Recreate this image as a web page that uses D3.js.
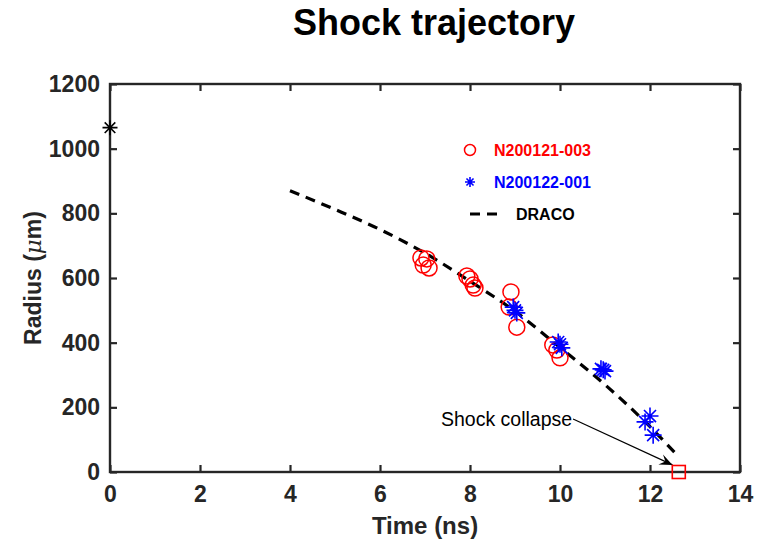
<!DOCTYPE html>
<html><head><meta charset="utf-8">
<script src="https://cdn.jsdelivr.net/npm/d3@7"></script>
<style>
html,body{margin:0;padding:0;background:#fff;}
svg{display:block;font-family:"Liberation Sans",Arial,sans-serif;}
</style></head>
<body><svg id="c" width="765" height="541"></svg>
<script>
// ---- data ----
const xTicks = [0,2,4,6,8,10,12,14];
const yTicks = [0,200,400,600,800,1000,1200];
const redT = [6.91,7.04,6.96,7.09,7.93,8.0,8.07,8.11,8.91,8.87,9.04,9.84,9.93,10.0];
const redR = [662,659,640,631,606,597,578,569,557,510,448,393,377,353];
const blueT = [8.96,9.04,9.0,9.96,10.04,10.0,10.91,11.0,10.96,12.0,11.89,12.07];
const blueR = [510,492,500,402,384,395,319,312,316,173,155,114];
const dracoT = [4,5,6,7,8,9,10,11,12,12.55];
const dracoR = [870,812,750,677,590,497,385,270,140,60];
const initT = [0], initR = [1065];
const collapseT = [12.64], collapseR = [0];
const legendLabels = ["N200121-003","N200122-001","DRACO"];
const titleText = "Shock trajectory";
const annText = "Shock collapse";

// ---- layout ----
const L=110, R=740, T=84, B=472;
const axisColor = "#262626";
const svg = d3.select("#c");
const x = d3.scaleLinear().domain([0,14]).range([L,R]);
const y = d3.scaleLinear().domain([0,1200]).range([B,T]);

// title
svg.append("text").attr("x",434).attr("y",35).attr("text-anchor","middle")
  .attr("font-size",36).attr("font-weight","bold").attr("fill","#000").text(titleText);

// DRACO line
svg.append("path").datum(dracoT.map((t,i)=>[t,dracoR[i]]))
  .attr("d", d3.line().x(d=>x(d[0])).y(d=>y(d[1])).curve(d3.curveMonotoneX))
  .attr("fill","none").attr("stroke","#000").attr("stroke-width",3.2).attr("stroke-dasharray","10,7");

function star(g, cx, cy, r, color, w){
  const a = r*Math.SQRT1_2;
  const p = `M${cx-r},${cy}L${cx+r},${cy}M${cx},${cy-r}L${cx},${cy+r}M${cx-a},${cy-a}L${cx+a},${cy+a}M${cx-a},${cy+a}L${cx+a},${cy-a}`;
  g.append("path").attr("d",p).attr("stroke",color).attr("stroke-width",w).attr("fill","none");
}

// red circles
svg.append("g").selectAll("circle").data(redT.map((t,i)=>[t,redR[i]])).join("circle")
  .attr("cx",d=>x(d[0])).attr("cy",d=>y(d[1])).attr("r",8)
  .attr("fill","none").attr("stroke","#ff0000").attr("stroke-width",1.5);

// blue stars
const gb = svg.append("g");
blueT.forEach((t,i)=>star(gb, x(t), y(blueR[i]), 8.5, "#0000ff", 1.6));

// annotation
const ax0 = x(10.29), ay0 = y(164), ax1 = x(12.5), ay1 = y(22);
svg.append("text").attr("x",x(10.27)).attr("y",ay0).attr("dy","0.35em").attr("text-anchor","end")
  .attr("font-size",19.5).attr("fill","#000").text(annText);
svg.append("line").attr("x1",ax0).attr("y1",ay0).attr("x2",ax1).attr("y2",ay1)
  .attr("stroke","#000").attr("stroke-width",1.2);
{
  const ang = Math.atan2(ay1-ay0, ax1-ax0);
  const len=13, wid=5.5;
  const bx = ax1 - len*Math.cos(ang), by = ay1 - len*Math.sin(ang);
  const nx = -Math.sin(ang), ny = Math.cos(ang);
  const mx = ax1 - 0.6*len*Math.cos(ang), my = ay1 - 0.6*len*Math.sin(ang);
  svg.append("path").attr("d",`M${ax1},${ay1}L${bx+nx*wid},${by+ny*wid}L${mx},${my}L${bx-nx*wid},${by-ny*wid}Z`)
    .attr("fill","#000");
}

// axes
const fs = 23;
const gx = svg.append("g").attr("transform",`translate(0,${B})`)
  .call(d3.axisBottom(x).tickValues(xTicks).tickSizeInner(-7).tickSizeOuter(0).tickPadding(14).tickFormat(d3.format("d")));
const gy = svg.append("g").attr("transform",`translate(${L},0)`)
  .call(d3.axisLeft(y).tickValues(yTicks).tickSizeInner(-7).tickSizeOuter(0).tickPadding(10).tickFormat(d3.format("d")));
const gx2 = svg.append("g").attr("transform",`translate(0,${T})`)
  .call(d3.axisTop(x).tickValues(xTicks).tickSizeInner(-7).tickSizeOuter(0).tickFormat(""));
const gy2 = svg.append("g").attr("transform",`translate(${R},0)`)
  .call(d3.axisRight(y).tickValues(yTicks).tickSizeInner(-7).tickSizeOuter(0).tickFormat(""));
[gx,gy,gx2,gy2].forEach(g=>{
  g.select(".domain").remove();
  g.selectAll(".tick line").attr("stroke",axisColor).attr("stroke-width",2.2);
  g.selectAll(".tick text").attr("fill",axisColor).attr("font-size",fs).attr("font-weight","bold")
    .attr("font-family","'Liberation Sans',Arial,sans-serif");
});
svg.append("rect").attr("x",L).attr("y",T).attr("width",R-L).attr("height",B-T)
  .attr("fill","none").attr("stroke",axisColor).attr("stroke-width",2.4);

// initial star and collapse square (drawn over frame)
initT.forEach((t,i)=>star(svg, x(t), y(initR[i]), 7.5, "#000", 1.6));
svg.append("g").selectAll("rect").data(collapseT.map((t,i)=>[t,collapseR[i]])).join("rect")
  .attr("x",d=>x(d[0])-6.5).attr("y",d=>y(d[1])-6.5).attr("width",13).attr("height",13)
  .attr("fill","none").attr("stroke","#ff0000").attr("stroke-width",1.6);

// axis labels
svg.append("text").attr("x",(L+R)/2).attr("y",534).attr("text-anchor","middle")
  .attr("font-size",24).attr("font-weight","bold").attr("fill",axisColor).text("Time (ns)");
const yl = svg.append("text").attr("transform",`translate(41,${(T+B)/2}) rotate(-90)`).attr("text-anchor","middle")
  .attr("font-size",23).attr("font-weight","bold").attr("fill",axisColor);
yl.append("tspan").text("Radius (");
yl.append("tspan").attr("font-style","italic").attr("font-weight","normal").attr("font-family","'DejaVu Serif',serif").text("μ");
yl.append("tspan").text("m)");

// legend
const lg = svg.append("g");
lg.append("circle").attr("cx",470).attr("cy",150).attr("r",5.5).attr("fill","none").attr("stroke","#ff0000").attr("stroke-width",1.5);
star(lg, 470, 182, 5, "#0000ff", 1.6);
lg.append("path").attr("d","M470,214L502,214").attr("stroke","#000").attr("stroke-width",3).attr("stroke-dasharray","10,7");
const lcol = ["#ff0000","#0000ff","#000"], lx=[494,494,516], ly=[150,182,214];
legendLabels.forEach((s,i)=>lg.append("text").attr("x",lx[i]).attr("y",ly[i]).attr("dy","0.36em")
  .attr("font-size",16).attr("font-weight","bold").attr("fill",lcol[i]).text(s));
</script></body></html>
